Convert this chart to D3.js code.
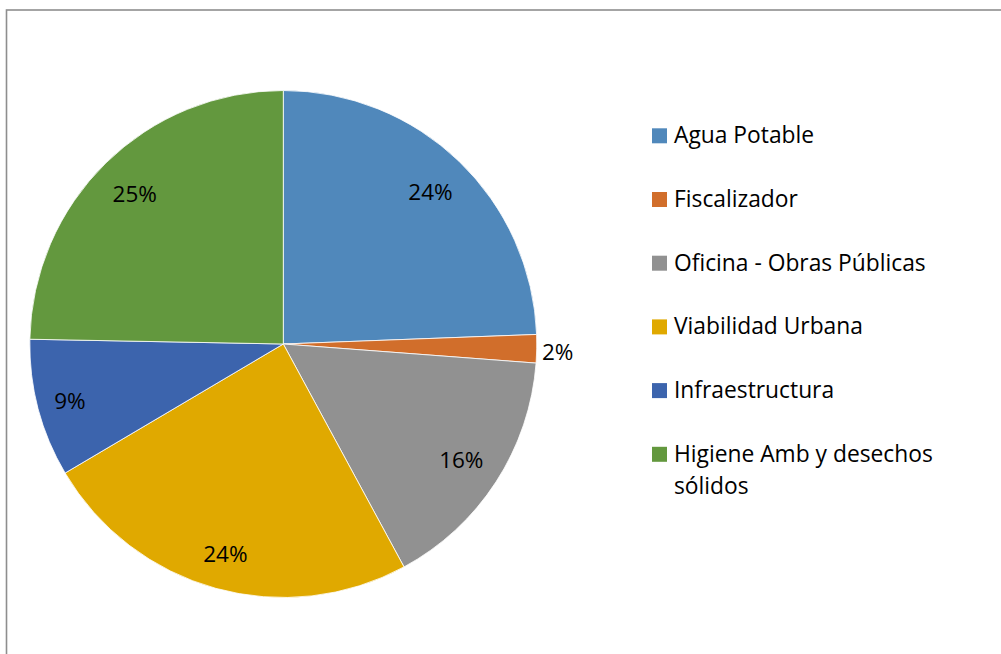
<!DOCTYPE html>
<html>
<head>
<meta charset="utf-8">
<script src="https://cdn.jsdelivr.net/npm/d3@7/dist/d3.min.js"></script>
<style>
  html, body { margin: 0; padding: 0; background: #ffffff; }
  svg { display: block; }
</style>
</head>
<body>
<svg id="chart" width="1001" height="654"></svg>
<script>
// ---- data ----
const categories = [
  "Agua Potable",
  "Fiscalizador",
  "Oficina - Obras Públicas",
  "Viabilidad Urbana",
  "Infraestructura",
  "Higiene Amb y desechos sólidos"
];
const values = [24.4, 1.8, 15.9, 24.4, 8.8, 24.7];
const colors = ["#5088bb", "#d16e2b", "#919191", "#e0a900", "#3c64ad", "#63983e"];
// legend text as wrapped in the reference
const legendLines = [
  ["Agua Potable"],
  ["Fiscalizador"],
  ["Oficina - Obras Públicas"],
  ["Viabilidad Urbana"],
  ["Infraestructura"],
  ["Higiene Amb y desechos", "sólidos"]
];

// ---- layout ----
const cx = 283.3, cy = 344, R = 253.5;
const FONT = "'Open Sans', 'Noto Sans', sans-serif";
const labelSize = 22.5, legendSize = 22.8;

const svg = d3.select("#chart");

// outer frame (extends beyond right/bottom edges as in the reference)
svg.append("rect")
  .attr("x", 6.5).attr("y", 10)
  .attr("width", 1200).attr("height", 800)
  .attr("fill", "none")
  .attr("stroke", "#8e8e8e")
  .attr("stroke-width", 1.6);

const data = categories.map((c, i) => ({ name: c, value: values[i], color: colors[i] }));
const total = d3.sum(values);

const pie = d3.pie().value(d => d.value).sort(null).startAngle(0).endAngle(2 * Math.PI);
const arcs = pie(data);
const arc = d3.arc().innerRadius(0).outerRadius(R);

const g = svg.append("g").attr("transform", `translate(${cx},${cy})`);

g.selectAll("path.slice")
  .data(arcs)
  .enter().append("path")
  .attr("class", "slice")
  .attr("d", arc)
  .attr("fill", d => d.data.color)
  .attr("stroke", "#ffffff")
  .attr("stroke-width", 0.8)
  .attr("stroke-linejoin", "round");

// percentage labels
const pctText = d => Math.round(d.data.value / total * 100) + "%";
const labels = g.selectAll("text.pct")
  .data(arcs)
  .enter().append("text")
  .attr("class", "pct")
  .attr("font-family", FONT)
  .attr("font-size", labelSize)
  .attr("fill", "#000")
  .attr("text-anchor", "middle")
  .text(pctText);

labels.each(function(d) {
  const t = d3.select(this);
  const w = this.getComputedTextLength();
  const a = (d.startAngle + d.endAngle) / 2;
  const s = Math.sin(a), c = Math.cos(a);
  const frac = d.data.value / total;
  let r, hh;
  if (frac < 0.05) {
    hh = 13;
    r = R + 5 + Math.abs(s) * w / 2 + Math.abs(c) * hh;   // small slice: label outside
  } else {
    hh = 18;
    r = R - 13 - (Math.abs(s) * w / 2 + Math.abs(c) * hh); // inside end
  }
  const x = r * s, y = -r * c;
  t.attr("x", x).attr("y", y + labelSize * 0.36 + (frac < 0.05 ? 3 : 1));
});

// legend
const legendX = 652, sq = 15;
const rowY = d3.scalePoint()
  .domain(categories)
  .range([128.3, 128.3 + 63.7 * (categories.length - 1)]);

const leg = svg.append("g");
const items = leg.selectAll("g.item")
  .data(data)
  .enter().append("g")
  .attr("class", "item")
  .attr("transform", d => `translate(${legendX},${rowY(d.name)})`);

items.append("rect")
  .attr("x", 0).attr("y", 0)
  .attr("width", sq).attr("height", sq)
  .attr("fill", d => d.color);

items.append("text")
  .attr("x", 22)
  .attr("y", sq)
  .attr("font-family", FONT)
  .attr("font-size", legendSize)
  .attr("fill", "#000")
  .each(function(d, i) {
    const t = d3.select(this);
    legendLines[i].forEach((line, k) => {
      t.append("tspan")
        .attr("x", 22)
        .attr("dy", k === 0 ? 0 : 32.3)
        .text(line);
    });
  });
</script>
</body>
</html>
